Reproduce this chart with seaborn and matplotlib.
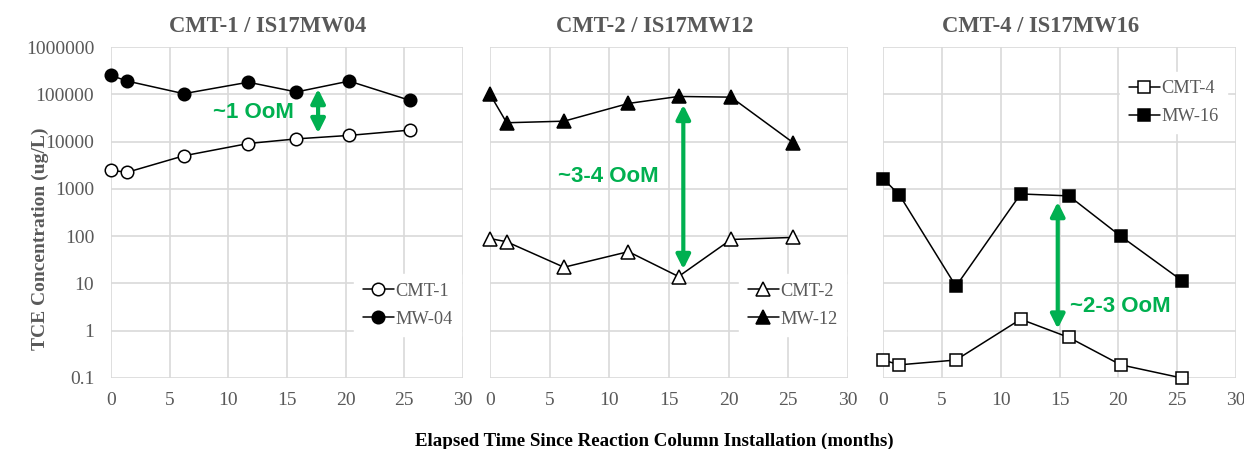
import matplotlib
matplotlib.use("Agg")
import matplotlib.pyplot as plt
import seaborn as sns
import numpy as np
import pandas as pd

# ---- data ----
t1 = [0.0, 1.4, 6.2, 11.7, 15.8, 20.3, 25.5]
cmt1 = [2450, 2250, 5000, 9100, 11400, 13500, 17500]
mw04 = [250000, 190000, 103000, 180000, 112000, 190000, 74000]

t2 = [0.0, 1.4, 6.2, 11.6, 15.8, 20.2, 25.4]
cmt2 = [89, 76, 22, 47, 14, 85, 94]
mw12 = [100000, 25000, 27000, 64000, 90000, 87000, 9500]

t3 = [0.0, 1.4, 6.2, 11.7, 15.8, 20.2, 25.4]
cmt4 = [0.24, 0.19, 0.24, 1.75, 0.72, 0.19, 0.10]
mw16 = [1650, 740, 8.7, 780, 710, 100, 11.5]

titles = ["CMT-1 / IS17MW04", "CMT-2 / IS17MW12", "CMT-4 / IS17MW16"]
cmt_labels = ["CMT-1", "CMT-2", "CMT-4"]
mw_labels = ["MW-04", "MW-12", "MW-16"]
markers = ["o", "^", "s"]
annot_text = ["~1 OoM", "~3-4 OoM", "~2-3 OoM"]
arrow_x = [17.65, 16.2, 14.85]
arrow_y = [(130000, 15000), (60000, 20), (530, 1.1)]
text_xy = [(12.1, 42000), (9.9, 1800), (15.9, 3.2)]
text_ha = ["center", "center", "left"]
yticks = [0.1, 1, 10, 100, 1000, 10000, 100000, 1000000]
ytick_labels = ["0.1", "1", "10", "100", "1000", "10000", "100000", "1000000"]
xticks = [0, 5, 10, 15, 20, 25, 30]

sns.set_theme(style="white")
plt.rcParams["font.family"] = ["Liberation Serif", "DejaVu Serif"]

GRAY = "#595959"
GREEN = "#00B050"
GRID = "#D9D9D9"

fig = plt.figure(figsize=(12.44, 4.49), dpi=100)
lefts = [111, 490, 883]
widths = [352, 358, 353]
axes = []
for l, w in zip(lefts, widths):
    axes.append(fig.add_axes([l / 1244, 1 - 378 / 449, w / 1244, (378 - 47) / 449]))

legend_anchor = [("lower right", (0.995, 0.127)), ("lower right", (0.995, 0.127)),
                 ("upper right", (0.975, 0.925))]
title_x = [0.446, 0.461, 0.445]
msizes = [9, 9.5, 9]

series = [(t1, cmt1, mw04), (t2, cmt2, mw12), (t3, cmt4, mw16)]
for i, ax in enumerate(axes):
    t, c, m = series[i]
    df_c = pd.DataFrame({"t": t, "v": c})
    df_m = pd.DataFrame({"t": t, "v": m})
    sns.lineplot(data=df_c, x="t", y="v", ax=ax, color="black", lw=1.1,
                 marker=markers[i], markersize=msizes[i], markerfacecolor="white",
                 markeredgecolor="black", markeredgewidth=1.1, label=cmt_labels[i],
                 sort=False, estimator=None, zorder=3, clip_on=False)
    sns.lineplot(data=df_m, x="t", y="v", ax=ax, color="black", lw=1.1,
                 marker=markers[i], markersize=msizes[i], markerfacecolor="black",
                 markeredgecolor="black", markeredgewidth=1.1, label=mw_labels[i],
                 sort=False, estimator=None, zorder=3, clip_on=False)
    ax.set_yscale("log")
    ax.set_ylim(0.1, 1000000)
    ax.set_xlim(0, 30)
    ax.set_xticks(xticks)
    ax.set_yticks(yticks)
    ax.yaxis.set_minor_locator(matplotlib.ticker.NullLocator())
    if i == 0:
        ax.set_yticklabels(ytick_labels)
        ax.set_ylabel("TCE Concentration (ug/L)", fontsize=14, fontweight="bold",
                      color=GRAY)
        ax.yaxis.set_label_coords(-0.175, 0.42)
    else:
        ax.set_yticklabels([])
        ax.set_ylabel("")
    ax.set_xlabel("")
    ax.tick_params(axis="both", labelsize=14, labelcolor=GRAY, length=0)
    ax.tick_params(axis="x", pad=10)
    ax.tick_params(axis="y", pad=12)
    ax.grid(True, color=GRID, lw=1.2)
    ax.set_axisbelow(True)
    for s in ax.spines.values():
        s.set_visible(False)
    ax.set_title(titles[i], fontsize=16.3, fontweight="bold", color=GRAY, pad=11,
                 x=title_x[i])

    # annotation arrow and text
    ax.annotate("", xy=(arrow_x[i], arrow_y[i][1]), xytext=(arrow_x[i], arrow_y[i][0]),
                arrowprops=dict(arrowstyle="<|-|>,head_length=0.7,head_width=0.35",
                                color=GREEN, lw=3, shrinkA=0, shrinkB=0), zorder=4)
    ax.text(text_xy[i][0], text_xy[i][1], annot_text[i], color=GREEN,
            fontsize=16, fontweight="bold", family=["Liberation Sans", "DejaVu Sans"],
            ha=text_ha[i], va="center", zorder=4)

    loc, anchor = legend_anchor[i]
    leg = ax.legend(loc=loc, bbox_to_anchor=anchor, frameon=True, fontsize=13.2,
                    handlelength=1.7, handletextpad=0.1, labelspacing=0.6,
                    borderaxespad=0, borderpad=0.45, fancybox=False)
    leg.get_frame().set_edgecolor("white")
    leg.get_frame().set_facecolor("white")
    leg.get_frame().set_alpha(1)
    for txt in leg.get_texts():
        txt.set_color(GRAY)

fig.text(0.526, 1 - 441 / 449, "Elapsed Time Since Reaction Column Installation (months)",
         ha="center", va="center", fontsize=13.6, fontweight="bold", color="black")

fig.savefig("out.png", dpi=100)
